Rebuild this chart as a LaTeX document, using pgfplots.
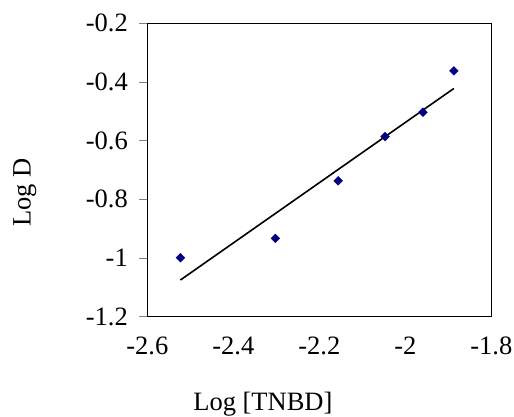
\documentclass[border=0pt]{standalone}
\usepackage{pgfplots}
\pgfplotsset{compat=1.18}
\usepackage{fontspec}
\setmainfont{Liberation Serif}
\newcommand\f{\fontsize{26.5bp}{31bp}\selectfont}
\definecolor{navy}{RGB}{0,0,128}
\begin{document}
\begin{tikzpicture}
\path[use as bounding box] (-147.3bp,-100.3bp) rectangle (366.7bp,316.7bp);
\begin{axis}[
  at={(0,0)}, anchor=south west,
  scale only axis, width=344bp, height=293.4bp,
  xmin=-2.6, xmax=-1.8, ymin=-1.2, ymax=-0.2,
  xtick={-2.6,-2.4,-2.2,-2,-1.8},
  ytick={-1.2,-1,-0.8,-0.6,-0.4,-0.2},
  /pgf/number format/assume math mode=true,
  /pgf/number format/fixed,
  tick label style={font=\f},
  axis line style={line width=1.5bp, black},
  x tick style={draw=none},
  y tick style={line width=0.8bp, gray},
  ytick pos=left, tick align=outside, major tick length=8bp,
  xticklabel style={yshift=-9bp},
  yticklabel style={xshift=-8bp},
  xlabel={Log [TNBD]}, ylabel={Log D},
  label style={font=\f},
  xlabel style={at={(axis description cs:0.336,-0.318)}, anchor=base},
  ylabel style={at={(axis description cs:-0.339,0.423)}, anchor=base, rotate=0},
  clip=false,
]
\addplot[black, line width=1.6bp] coordinates {(-2.523,-1.075) (-1.887,-0.422)};
\addplot[only marks, mark=square*, mark size=3.1bp, mark options={rotate=45, fill=navy, draw=navy}]
  coordinates {(-2.523,-0.999) (-2.302,-0.933) (-2.156,-0.737) (-2.047,-0.586) (-1.959,-0.503) (-1.887,-0.362)};
\end{axis}
\end{tikzpicture}
\end{document}
